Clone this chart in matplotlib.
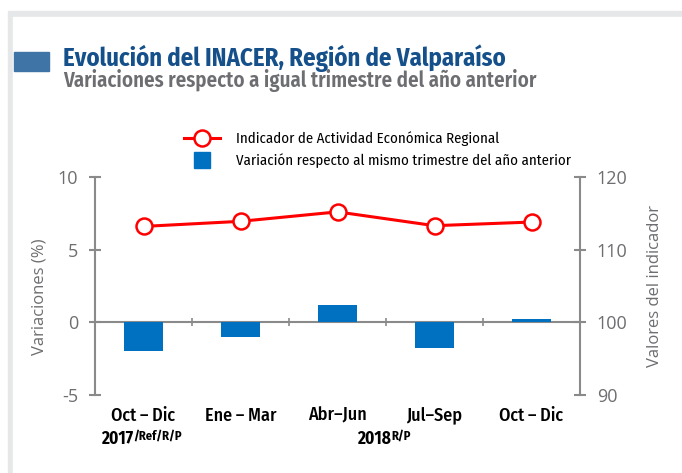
import matplotlib
matplotlib.use("Agg")
import matplotlib.pyplot as plt
from matplotlib.lines import Line2D
from matplotlib.patches import Rectangle

plt.rcParams["axes.unicode_minus"] = False

# data
periodos = ["Oct\u2009–\u2009Dic", "Ene\u2009–\u2009Mar", "Abr–Jun", "Jul–Sep", "Oct\u2009–\u2009Dic"]
variacion = [-2.0, -1.0, 1.2, -1.8, 0.2]
indicador = [113.2, 113.9, 115.2, 113.3, 113.8]

narrow = ["Fira Sans Condensed", "DejaVu Sans"]
sans = ["Open Sans", "DejaVu Sans"]
gris = "#8a8a8a"
gris_txt = "#6d6e71"
azul = "#0070C0"

W, H = 682, 473
fig = plt.figure(figsize=(W / 100, H / 100), dpi=100)

# light gray frame (top and left)
fig.patches.append(Rectangle((8 / W, 0), 1, 1 - 11 / H, transform=fig.transFigure,
                             color="#e6e7e8", zorder=-10))
fig.patches.append(Rectangle((13 / W, 0), 1, 1 - 17 / H, transform=fig.transFigure,
                             color="white", zorder=-9))
# title block
fig.patches.append(Rectangle((14 / W, 1 - 71 / H), 35 / W, 19 / H, transform=fig.transFigure,
                             color="#3f74a6", zorder=-8))
fig.text(63 / W, 1 - 66 / H, "Evolución del INACER, Región de Valparaíso", family=narrow,
         fontweight="bold", fontsize=17.8, color="#15508b", va="baseline")
fig.text(63 / W, 1 - 87 / H, "Variaciones respecto a igual trimestre del año anterior",
         family=narrow, fontweight="semibold", fontsize=15, color=gris_txt, va="baseline")

ax = fig.add_axes([95 / W, 1 - 395 / H, 485 / W, 218 / H])
ax2 = ax.twinx()

x = list(range(len(periodos)))
bars = ax.bar(x, variacion, width=0.4, color=azul, zorder=2)
ln, = ax2.plot(x, indicador, color="red", lw=2.2, marker="o", ms=11.5,
               mfc="white", mec="red", mew=1.8, zorder=3)

ax.set_xlim(-0.5, 4.5)
ax.set_ylim(-5, 10)
ax.set_yticks([-5, 0, 5, 10])
ax2.set_ylim(90, 120)
ax2.set_yticks([90, 100, 110, 120])

for a in (ax, ax2):
    for s in a.spines.values():
        s.set_visible(False)
ax.spines["left"].set_visible(True)
ax.spines["left"].set_color(gris)
ax.spines["left"].set_linewidth(1.5)
ax2.spines["right"].set_visible(True)
ax2.spines["right"].set_color(gris)
ax2.spines["right"].set_linewidth(1.5)
ax.spines["bottom"].set_visible(True)
ax.spines["bottom"].set_position(("data", 0))
ax.spines["bottom"].set_color(gris)
ax.spines["bottom"].set_linewidth(1.5)
ax.spines["bottom"].set_zorder(1)

ax.set_xticks([0.5, 1.5, 2.5, 3.5])
ax.tick_params(axis="x", direction="inout", length=6, width=1.2, color=gris, labelbottom=False)
ax.tick_params(axis="y", direction="inout", length=8, width=1.5, color=gris,
               labelsize=13, labelcolor=gris_txt, pad=8)
ax2.tick_params(axis="y", direction="inout", length=8, width=1.5, color=gris,
                labelsize=13, labelcolor=gris_txt, pad=8)
for t in ax.get_yticklabels() + ax2.get_yticklabels():
    t.set_family(sans)

ax.set_ylabel("Variaciones (%)", family=sans, fontsize=12, color=gris_txt)
ax.yaxis.set_label_coords(-0.097, 0.45)
ax2.set_ylabel("Valores del indicador", family=sans, fontsize=12, color=gris_txt, labelpad=14)

tr = ax.get_xaxis_transform()
for i, p in enumerate(periodos):
    ax.text(i, -0.117, p, transform=tr, ha="center", va="baseline", family=narrow,
            fontweight="medium", fontsize=13, color="black")

anios = [("2017", "/Ref/R/P", -0.44), ("2018", "R/P", 2.2)]
for a, sup, xa in anios:
    t = ax.text(xa, -0.2, a, transform=tr, ha="left", va="center", family=narrow,
                fontweight="bold", fontsize=12.5, color="black")
    ax.annotate(sup, xy=(1, 1), xycoords=t, xytext=(0.5, 0), textcoords="offset points",
                ha="left", va="top", family=narrow, fontweight="bold", fontsize=9,
                color="black")

handles = [ln, Line2D([], [], ls="none", marker="s", ms=11, color=azul)]
labels = ["Indicador de Actividad Económica Regional",
          "Variación respecto al mismo trimestre del año anterior"]
fig.legend(handles, labels, loc="upper left", bbox_to_anchor=(184 / W, 1 - 131 / H),
           frameon=False, prop={"family": narrow, "size": 10.7}, handlelength=2.4,
           handletextpad=1.1, labelspacing=0.5, borderpad=0, borderaxespad=0)

fig.savefig("out.png", dpi=100)
